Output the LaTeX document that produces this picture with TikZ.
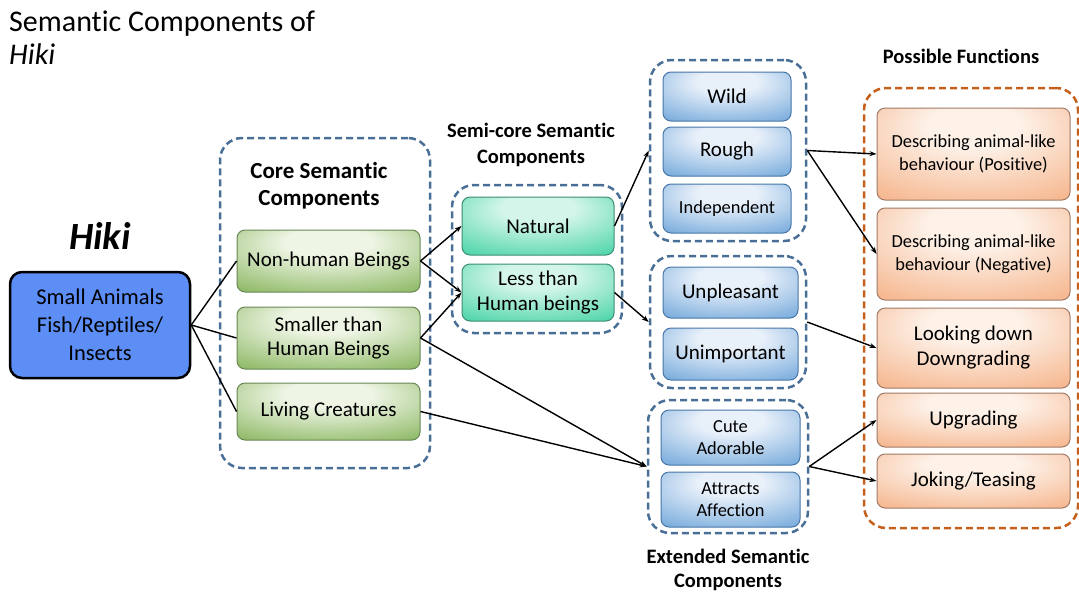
\documentclass[tikz,border=0pt]{standalone}
\usepackage{fontspec}
\setmainfont{Carlito}[Ligatures=NoCommon]
\usetikzlibrary{arrows.meta}

% palette
\definecolor{mainblue}{RGB}{92,142,246}
\definecolor{gbase}{RGB}{118,170,70}
\definecolor{gpale}{RGB}{238,245,228}
\definecolor{gline}{RGB}{105,135,85}
\definecolor{tbase}{RGB}{44,204,152}
\definecolor{tpale}{RGB}{212,246,234}
\definecolor{tline}{RGB}{60,140,118}
\definecolor{bbase}{RGB}{92,154,212}
\definecolor{bpale}{RGB}{232,240,250}
\definecolor{bline}{RGB}{72,118,168}
\definecolor{obase}{RGB}{244,168,120}
\definecolor{opale}{RGB}{253,241,232}
\definecolor{oline}{RGB}{160,122,102}
\definecolor{grpline}{RGB}{74,111,150}
\definecolor{fnline}{RGB}{197,96,28}

% soft glow shadings, light spot near the top middle
\pgfdeclareradialshading{greenglow}{\pgfpoint{0bp}{18bp}}{color(0bp)=(gpale); color(12bp)=(gpale); color(48bp)=(gbase); color(80bp)=(gbase)}
\pgfdeclareradialshading{tealglow}{\pgfpoint{0bp}{18bp}}{color(0bp)=(tpale); color(12bp)=(tpale); color(48bp)=(tbase); color(80bp)=(tbase)}
\pgfdeclareradialshading{blueglow}{\pgfpoint{0bp}{18bp}}{color(0bp)=(bpale); color(12bp)=(bpale); color(48bp)=(bbase); color(80bp)=(bbase)}
\pgfdeclareradialshading{orangeglow}{\pgfpoint{0bp}{18bp}}{color(0bp)=(opale); color(12bp)=(opale); color(48bp)=(obase); color(80bp)=(obase)}

\newcommand{\fsz}[2]{\fontsize{#1}{#2}\selectfont}

\tikzset{
  box/.style={rectangle, rounded corners=8pt, align=center, inner sep=2pt, line width=1pt, text=black},
  gbox/.style={box, draw=gline, shading=greenglow, font=\fsz{21}{24}},
  tbox/.style={box, draw=tline, shading=tealglow, font=\fsz{21}{25}},
  bbox/.style={box, draw=bline, shading=blueglow, font=\fsz{21}{24}},
  bboxs/.style={box, draw=bline, shading=blueglow, font=\fsz{18.4}{22}},
  obox/.style={box, draw=oline, shading=orangeglow, font=\fsz{21}{25}},
  oboxs/.style={box, draw=oline, shading=orangeglow, font=\fsz{18.4}{23}},
  group/.style={rectangle, rounded corners=22pt, draw=grpline, line width=2.5pt, dash pattern=on 7pt off 4pt},
  fgroup/.style={group, draw=fnline},
  heading/.style={align=center, font=\bfseries\fsz{20.5}{25}},
  link/.style={line width=1.4pt, black},
  arr/.style={link, -{Stealth[length=7pt,width=5pt]}},
}

\begin{document}
\begin{tikzpicture}[x=1pt, y=-1pt]
\useasboundingbox (0,0) rectangle (1079,595);

% titles
\node[anchor=north west, align=left, inner sep=0pt, font=\fsz{30}{33}] (title) at (9,11)
  {Semantic Components of\\\itshape Hiki};
\node[font=\bfseries\itshape\fsz{38.5}{40}] (hiki) at (100,236) {Hiki};
\node[heading, font=\bfseries\fsz{23}{27}] (coreh) at (319,186) {Core Semantic\\Components};
\node[heading, font=\bfseries\fsz{20.5}{26}] (semih) at (531,145) {Semi-core Semantic\\Components};
\node[heading] (funch) at (961,56) {Possible Functions};
\node[heading, font=\bfseries\fsz{20.5}{24}] (exth) at (728,570) {Extended Semantic\\Components};

% source
\node[box, fill=mainblue, draw=black, line width=2.5pt, rounded corners=12pt,
      minimum width=180pt, minimum height=106pt, font=\fsz{22.5}{28}] (small) at (100,325)
  {Small Animals\\Fish/Reptiles/\\Insects};

% core components
\node[group, minimum width=210pt, minimum height=330pt] (core) at (325,303) {};
\node[gbox, minimum width=183pt, minimum height=62pt] (nonhuman) at (328.5,261) {Non-human Beings};
\node[gbox, minimum width=183pt, minimum height=62pt] (smaller) at (328.5,338) {Smaller than\\Human Beings};
\node[gbox, minimum width=183pt, minimum height=57pt] (living) at (328.5,411.5) {Living Creatures};

% semi-core components
\node[group, minimum width=170pt, minimum height=148pt] (semi) at (537,259) {};
\node[tbox, minimum width=152pt, minimum height=58pt] (natural) at (538,226) {Natural};
\node[tbox, minimum width=152pt, minimum height=57pt] (less) at (538,292.5) {Less than\\Human beings};

% extended components
\node[group, minimum width=156pt, minimum height=181pt] (wildg) at (728,150.5) {};
\node[bbox, minimum width=128pt, minimum height=49pt] (wild) at (727,96.5) {Wild};
\node[bbox, minimum width=128pt, minimum height=49pt] (rough) at (727,151.5) {Rough};
\node[bboxs, minimum width=128pt, minimum height=49pt] (indep) at (727,208.5) {Independent};

\node[group, minimum width=156pt, minimum height=132pt] (lowg) at (728,322) {};
\node[bbox, minimum width=135pt, minimum height=51pt] (unpleasant) at (730.5,292.5) {Unpleasant};
\node[bbox, minimum width=135pt, minimum height=52pt] (unimportant) at (730.5,354) {Unimportant};

\node[group, minimum width=160pt, minimum height=133pt] (cuteg) at (728,466.5) {};
\node[bboxs, minimum width=139pt, minimum height=55pt] (cute) at (730.5,437.5) {Cute\\Adorable};
\node[bboxs, minimum width=139pt, minimum height=55pt] (affect) at (730.5,499.5) {Attracts\\Affection};

% functions
\node[fgroup, minimum width=214pt, minimum height=440pt] (func) at (971,308) {};
\node[oboxs, minimum width=193pt, minimum height=92pt] (pos) at (973.5,154) {Describing animal-like\\behaviour (Positive)};
\node[oboxs, minimum width=193pt, minimum height=92pt] (neg) at (973.5,254) {Describing animal-like\\behaviour (Negative)};
\node[obox, minimum width=193pt, minimum height=80pt] (looking) at (973.5,348) {Looking down\\Downgrading};
\node[obox, minimum width=193pt, minimum height=54pt] (upgrading) at (973.5,420) {Upgrading};
\node[obox, minimum width=193pt, minimum height=54pt] (joking) at (973.5,481) {Joking/Teasing};

% connectors
\draw[link] (small.east) -- (nonhuman.west);
\draw[link] (small.east) -- (smaller.west);
\draw[link] (small.east) -- (living.west);

\draw[arr] (nonhuman.east) -- (natural.west);
\draw[arr] (nonhuman.east) -- (less.west);
\draw[arr] (smaller.east) -- (less.west);
\draw[arr] (smaller.east) -- (cuteg.west);
\draw[arr] (living.east) -- (cuteg.west);

\draw[arr] (natural.east) -- (wildg.west);
\draw[arr] (less.east) -- (lowg.west);

\draw[arr] (wildg.east) -- (pos.west);
\draw[arr] (wildg.east) -- (neg.west);
\draw[arr] (lowg.east) -- (looking.west);
\draw[arr] (cuteg.east) -- (upgrading.west);
\draw[arr] (cuteg.east) -- (joking.west);
\end{tikzpicture}
\end{document}
